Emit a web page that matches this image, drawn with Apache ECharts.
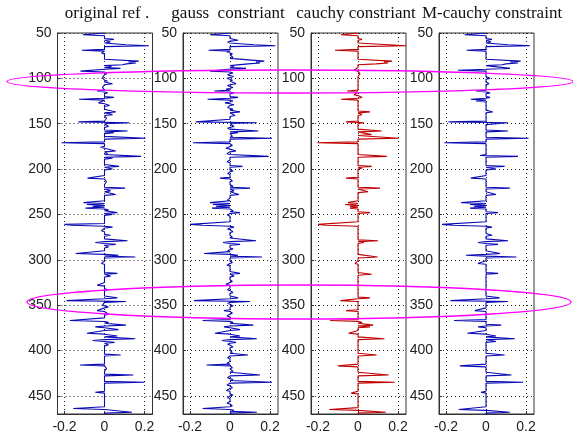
<!DOCTYPE html>
<html><head><meta charset="utf-8">
<script src="https://cdn.jsdelivr.net/npm/echarts@6/dist/echarts.min.js"></script>
<style>html,body{margin:0;padding:0;background:#fff}#c{width:573px;height:440px}</style>
</head><body><div id="c"></div>
<script>
// ---------- data ----------
const titles = ['original ref .', 'gauss  constriant', 'cauchy constriant', 'M-cauchy constraint'];
const xTickValues = [-0.2, 0, 0.2];
const timeMin = 50, timeMax = 470, timeStep = 50;
const ampMin = -0.235, ampMax = 0.24;

// original reflectivity (sparse spikes: time, amplitude; zero elsewhere)
const origT = [52,57,60,63,64,69,72,81,82,83,84,85,87,89,92,95,99,103,106,110,114,116,121,123,127,130,137,140,144,148,149,153,158,160,166,171,176,180,183,186,188,197,200,203,210,214,221,224,228,237,239,241,243,245,248,250,253,261,262,264,268,273,279,281,283,286,293,295,297,304,315,318,328,333,342,345,346,350,352,356,360,367,369,372,374,377,381,384,387,389,391,394,405,410,416,420,427,432,435,446,452,464,468];
const origV = [-0.108,0.047,0.03,0.107,0.222,-0.113,-0.015,0.171,0.12,0.157,0.11,0.09,0.035,0.08,-0.12,0.012,-0.01,0.015,0.04,-0.01,-0.037,0.015,0.047,-0.127,-0.03,0.025,0.056,0.04,0.01,-0.13,0.124,0.02,0.115,0.047,0.205,-0.215,-0.02,0.056,0.015,0.183,0.04,0.073,0.04,-0.01,-0.085,0.01,0.103,0.03,0.056,-0.105,-0.088,-0.06,-0.095,0.02,0.064,0.04,0.01,-0.2,-0.164,0.04,-0.015,0.03,0.115,-0.046,0.056,0.02,-0.144,0.07,0.154,-0.015,0.064,0.03,-0.037,0.02,0.064,-0.19,0.107,-0.01,0.02,-0.037,0.02,-0.173,0.02,0.107,-0.046,0.07,-0.088,0.064,0.154,-0.06,0.05,0.02,0.081,0.01,-0.122,0.01,0.144,0.01,0.2,-0.046,0.01,-0.156,0.137];

// gauss constraint inversion
const gaussT = [52,55,58,60,63,64,66,69,71,73,75,77,79,81,82,83,84,85,87,89,90,92,94,96,98,100,102,104,106,108,110,112,114,116,118,121,123,125,127,129,132,134,137,139,141,144,146,148,149,151,153,155,158,160,162,164,166,168,171,174,177,180,183,186,189,192,195,197,199,202,205,208,210,213,216,219,221,224,227,228,231,234,237,239,241,243,246,248,251,254,257,261,262,264,266,269,272,275,279,281,283,285,288,290,293,295,297,300,303,306,309,312,315,318,321,324,327,330,333,336,339,342,345,346,348,351,353,356,359,362,364,367,369,372,374,377,379,381,384,387,389,391,393,396,399,402,405,408,411,414,416,419,421,423,427,430,432,435,438,441,444,446,449,452,455,458,461,464,466,468,470];
const gaussV = [-0.1,0.01,0.04,-0.012,0.12,0.227,0.01,-0.107,-0.015,0.012,-0.01,0.015,-0.008,0.171,0.13,0.15,0.09,0.1,0.02,0.08,-0.01,-0.1,0.015,-0.012,0.018,-0.015,0.012,-0.01,0.03,-0.012,0.015,-0.02,-0.078,0.02,-0.01,0.04,-0.112,0.015,-0.025,0.02,-0.012,0.015,0.05,-0.01,0.025,-0.01,0.01,-0.171,0.134,-0.01,0.02,-0.012,0.142,0.04,-0.01,0.012,0.21,-0.01,-0.185,0.012,-0.02,0.03,-0.015,0.193,0.01,-0.015,0.01,0.063,-0.01,0.015,-0.012,0.01,-0.05,0.012,-0.01,0.015,0.1,0.02,-0.01,0.045,0.01,-0.012,-0.1,-0.085,-0.07,-0.09,0.015,0.05,-0.012,0.01,-0.01,-0.2,-0.137,0.02,-0.012,0.015,-0.01,0.012,0.13,-0.035,0.05,-0.01,0.015,-0.012,-0.13,0.04,0.16,-0.01,0.012,-0.015,0.01,-0.01,0.05,0.02,-0.01,0.012,-0.02,0.01,-0.012,0.015,-0.01,0.04,-0.18,0.1,-0.012,0.015,-0.01,-0.03,0.012,-0.015,0.01,-0.137,0.015,0.117,-0.03,0.05,-0.01,-0.075,0.05,0.134,-0.04,0.03,-0.012,0.015,-0.01,0.012,0.09,-0.012,0.01,-0.015,-0.117,0.012,-0.01,0.015,0.15,-0.012,0.015,0.21,-0.015,0.012,-0.018,-0.01,0.015,-0.012,0.01,-0.015,0.012,-0.137,0.02,0.134,0.01];

// cauchy constraint inversion
const cauchyT = [52,57,64,69,81,82,83,84,91,95,114,118,121,123,137,140,148,149,158,162,166,171,186,197,199,210,221,225,237,239,241,243,248,261,262,279,281,297,304,316,342,345,356,367,369,372,374,381,387,405,417,427,435,447,465,468];
const cauchyV = [-0.085,0.02,0.24,-0.115,0.17,0.13,0.15,0.09,-0.02,0.01,-0.054,-0.02,0.02,-0.085,0.06,0.02,-0.06,0.03,0.118,0.068,0.203,-0.203,0.144,0.068,0.02,-0.06,0.11,0.05,-0.05,-0.065,-0.04,-0.04,0.06,-0.2,-0.16,0.1,0.03,0.098,-0.015,0.068,0.06,-0.088,-0.06,-0.14,0.02,0.076,0.06,-0.047,0.132,0.093,-0.1,0.153,0.183,-0.034,-0.144,0.139];

// M-cauchy constraint inversion
const mcauchyT = [52,57,60,63,64,69,81,82,83,84,85,89,91,100,106,114,116,121,123,125,137,148,149,150,158,166,171,176,185,186,197,200,210,221,228,237,239,241,243,248,261,262,264,273,279,281,283,293,295,297,304,315,342,345,346,356,367,372,374,381,384,387,390,405,417,427,435,446,465,468];
const mcauchyV = [-0.107,0.03,0.025,0.11,0.22,-0.097,0.173,0.12,0.16,0.1,0.08,0.12,-0.14,0.02,0.015,-0.05,0.02,0.02,-0.076,-0.05,0.034,-0.187,0.11,0.12,0.11,0.213,-0.208,-0.01,-0.03,0.16,0.093,0.05,-0.076,0.119,0.05,-0.124,-0.08,-0.06,-0.08,0.06,-0.22,-0.164,0.03,0.03,0.11,-0.04,0.06,0.07,-0.1,0.152,-0.04,0.06,0.068,-0.178,0.11,-0.056,-0.16,0.076,-0.04,-0.093,0.05,0.144,0.05,0.093,-0.131,0.127,0.186,-0.025,-0.136,0.119];

// ---------- build ----------
function build(T, V) {
  const m = {};
  T.forEach((t, i) => { m[t] = V[i]; });
  const out = [];
  for (let t = timeMin; t <= timeMax; t++) out.push([m[t] !== undefined ? m[t] : 0, t]);
  return out;
}
const sets = [build(origT, origV), build(gaussT, gaussV), build(cauchyT, cauchyV), build(mcauchyT, mcauchyV)];
const colors = ['#0a0ab4', '#0a0ab4', '#c00000', '#0a0ab4'];
const lefts = [57.5, 183, 311, 439];
const titleX = [107, 228, 356, 492];

const grids = [], xAxes = [], yAxes = [], series = [], graphics = [];
for (let i = 0; i < 4; i++) {
  grids.push({ left: lefts[i], top: 33, width: 95, height: 381, show: true, borderColor: '#333', borderWidth: 1, containLabel: false });
  xAxes.push({
    type: 'value', gridIndex: i, min: ampMin, max: ampMax, position: 'bottom',
    axisLine: { show: true, onZero: false, lineStyle: { color: '#333' } },
    axisTick: { show: true, inside: true, length: 3, customValues: xTickValues, lineStyle: { color: '#333' } },
    axisLabel: { customValues: xTickValues, fontSize: 14, color: '#222', margin: 6, fontFamily: 'Liberation Sans',
      formatter: v => (Math.abs(v) < 1e-9 ? '0' : String(v)) },
    splitLine: { show: true, lineStyle: { type: [1, 3], color: '#222', width: 1 } }
  });
  yAxes.push({
    type: 'value', gridIndex: i, inverse: true, min: timeMin, max: timeMax, interval: timeStep,
    axisLine: { show: true, onZero: false, lineStyle: { color: '#333' } },
    axisTick: { show: true, inside: true, length: 3, lineStyle: { color: '#333' } },
    axisLabel: { fontSize: 14, color: '#222', margin: 6, fontFamily: 'Liberation Sans', showMaxLabel: false, showMinLabel: true },
    splitLine: { show: true, lineStyle: { type: [1, 3], color: '#222', width: 1 } }
  });
  series.push({
    type: 'line', xAxisIndex: i, yAxisIndex: i, data: sets[i], showSymbol: false, symbol: 'none',
    lineStyle: { color: colors[i], width: 1.1 }, itemStyle: { color: colors[i] }, clip: true, z: 3
  });
  graphics.push({ type: 'text', x: titleX[i], y: 5, z: 10,
    style: { text: titles[i], textAlign: 'center', font: '17px "Liberation Serif"', fill: '#111' } });
}
graphics.push({ type: 'ellipse', z: 100, shape: { cx: 290, cy: 81.5, rx: 283, ry: 11.5 },
  style: { fill: null, stroke: '#ff00ff', lineWidth: 1.3 } });
graphics.push({ type: 'ellipse', z: 100, shape: { cx: 299, cy: 302, rx: 272, ry: 17 },
  style: { fill: null, stroke: '#ff00ff', lineWidth: 1.3 } });

const chart = echarts.init(document.getElementById('c'), null, { renderer: 'canvas' });
chart.setOption({
  backgroundColor: '#fff', animation: false,
  grid: grids, xAxis: xAxes, yAxis: yAxes, series: series, graphic: graphics
});
</script>
</body></html>
